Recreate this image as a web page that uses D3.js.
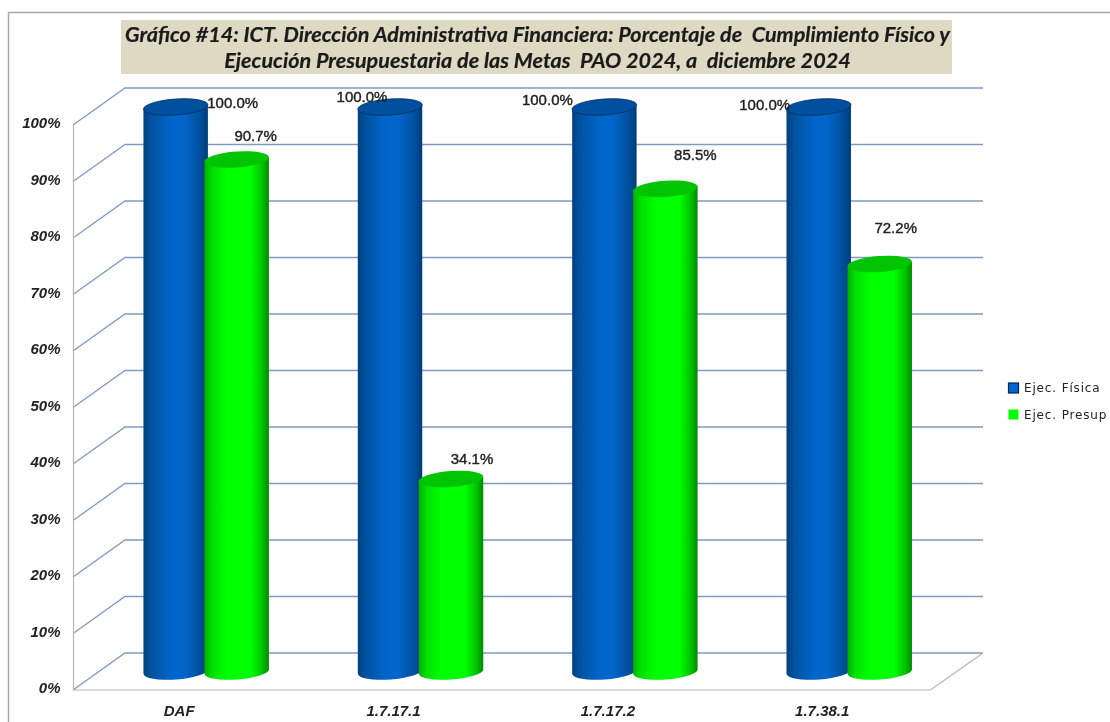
<!DOCTYPE html>
<html><head><meta charset="utf-8">
<script src="https://cdn.jsdelivr.net/npm/d3@7/dist/d3.min.js"></script>
<style>html,body{margin:0;padding:0;background:#fff;overflow:hidden}svg{display:block;filter:blur(0.45px)}</style>
</head><body><svg id="c" width="1110" height="722"></svg>
<script>
const categories = ["DAF","1.7.17.1","1.7.17.2","1.7.38.1"];
const ejecFisica = [100.0,100.0,100.0,100.0];
const ejecPresup = [90.7,34.1,85.5,72.2];
const yTicks = [0,10,20,30,40,50,60,70,80,90,100];
const seriesNames = ["Ejec. Física","Ejec. Presup"];
const titleLines = ["Gráfico #14: ICT. Dirección Administrativa Financiera: Porcentaje de  Cumplimiento Físico y","Ejecución Presupuestaria de las Metas  PAO 2024, a  diciembre 2024"];
// hand-placed label offsets from each cylinder's top centre
const labelShiftFisica = [[57,-4],[-28,-10],[-57,-7],[-54,-2]];
const labelShiftPresup = [[19,-23.5],[21,-20],[30,-34],[16,-36]];

const svg = d3.select("#c");
const defs = svg.append("defs");
function grad(id,stops){
  const g=defs.append("linearGradient").attr("id",id).attr("x1",0).attr("x2",1).attr("y1",0).attr("y2",0);
  stops.forEach(s=>g.append("stop").attr("offset",s[0]).attr("stop-color",s[1]));
}
grad("gb",[[0,"#00417f"],[.12,"#00529f"],[.45,"#0066cc"],[.62,"#0066cc"],[.88,"#004f9c"],[1,"#003c78"]]);
grad("gg",[[0,"#00b000"],[.12,"#00e000"],[.35,"#00ff00"],[.72,"#00ff00"],[.9,"#00c000"],[1,"#008a00"]]);

const yBack = d3.scaleLinear().domain([0,100]).range([653,88]);
const yFront = d3.scaleLinear().domain([0,100]).range([690,125]);
const yCyl = d3.scaleLinear().domain([0,100]).range([671.5,107]);
const xBack = [125,983], xFront=[73,930.5];
const xCat = d3.scaleBand().domain(categories).range([99,956.4]);
const serCx = s => s===0 ? -30.5 : 30.5;
const catC = c => xCat(c)+xCat.bandwidth()/2;

// chart frame
svg.append("path").attr("d","M8.5,722V12.5H1110").attr("fill","none").attr("stroke","#a6a6a6").attr("stroke-width",1.4);

// walls
const gridCol="#7f9bc4", wallCol="#b5b5b5";
svg.append("g").selectAll("path").data(yTicks).join("path")
  .attr("d",d=>`M${xFront[0]},${yFront(d)}L${xBack[0]},${yBack(d)}H${xBack[1]}`)
  .attr("fill","none").attr("stroke",gridCol).attr("stroke-width",1.3);
svg.append("path").attr("d",`M${xFront[0]+.5},${yFront(100)}V${yFront(0)}H${xFront[1]}L${xBack[1]},${yBack(0)}`)
  .attr("fill","none").attr("stroke",wallCol).attr("stroke-width",1.2);

// cylinders
const rx=32.3, ry=8, tilt=-4;
function cyl(g,cx,val,grId,topCol,edge){
  const top=yCyl(val), bot=yCyl(0);
  const dx=rx*Math.cos(tilt*Math.PI/180), dy=rx*Math.sin(tilt*Math.PI/180);
  g.append("path")
   .attr("d",`M${cx-dx},${top-dy}L${cx-dx},${bot-dy}A${rx},${ry} ${tilt} 0 0 ${cx+dx},${bot+dy}L${cx+dx},${top+dy}Z`)
   .attr("fill",`url(#${grId})`);
  g.append("ellipse").attr("cx",cx).attr("cy",top).attr("rx",rx).attr("ry",ry)
   .attr("transform",`rotate(${tilt} ${cx} ${top})`)
   .attr("fill",topCol).attr("stroke",edge).attr("stroke-width",edge==="none"?0:.8);
}
const gc=svg.append("g");
categories.forEach((c,i)=>{
  cyl(gc,catC(c)+serCx(0),ejecFisica[i],"gb","#00509f","#00305f");
});
categories.forEach((c,i)=>{
  cyl(gc,catC(c)+serCx(1),ejecPresup[i],"gg","#00c400","none");
});

// value labels
const labels=svg.append("g").attr("font-family","'Liberation Sans'").attr("font-size",15).attr("fill","#222").attr("text-anchor","middle").attr("stroke","#222").attr("stroke-width",.4);
categories.forEach((c,i)=>{
  labels.append("text").attr("x",catC(c)+serCx(0)+labelShiftFisica[i][0]).attr("y",yCyl(ejecFisica[i])+labelShiftFisica[i][1]+5).text(ejecFisica[i].toFixed(1)+"%");
  labels.append("text").attr("x",catC(c)+serCx(1)+labelShiftPresup[i][0]).attr("y",yCyl(ejecPresup[i])+labelShiftPresup[i][1]+5).text(ejecPresup[i].toFixed(1)+"%");
});

// y tick labels
svg.append("g").attr("font-family","'Liberation Sans'").attr("font-size",15).attr("font-style","italic").attr("font-weight","bold").attr("fill","#222").attr("text-anchor","end")
 .selectAll("text").data(yTicks).join("text").attr("x",60.5).attr("y",d=>yFront(d)+3).text(d=>d+"%");

// x labels
svg.append("g").attr("font-family","'Liberation Sans'").attr("font-size",15).attr("font-style","italic").attr("font-weight","bold").attr("fill","#222").attr("text-anchor","middle")
 .selectAll("text").data(categories).join("text").attr("x",d=>catC(d)-27).attr("y",716).text(d=>d);

// title
svg.append("rect").attr("x",121).attr("y",20).attr("width",831).attr("height",54).attr("fill","#ddd9c3");
svg.append("g").attr("font-family","Lato").attr("font-size",21.6).attr("font-style","italic").attr("font-weight","bold").attr("fill","#1a1a1a").attr("stroke","#1a1a1a").attr("stroke-width",.2).attr("text-anchor","middle")
 .selectAll("text").data(titleLines).join("text").attr("xml:space","preserve").style("white-space","pre").attr("x",537.5).attr("y",(d,i)=>42+i*26).text(d=>d);

// legend
const lg=svg.append("g").attr("font-family","'DejaVu Sans'").attr("font-size",12).attr("fill","#222");
const legCols=["#0066cc","#00ff00"], legEdge=["#00264d","none"];
seriesNames.forEach((n,i)=>{
  lg.append("rect").attr("x",1008.5).attr("y",383+i*26.5).attr("width",10).attr("height",10).attr("fill",legCols[i]).attr("stroke",legEdge[i]).attr("stroke-width",1.2);
  lg.append("text").attr("x",1024).attr("y",392+i*26.5).attr("letter-spacing",.85).text(n);
});
</script></body></html>
